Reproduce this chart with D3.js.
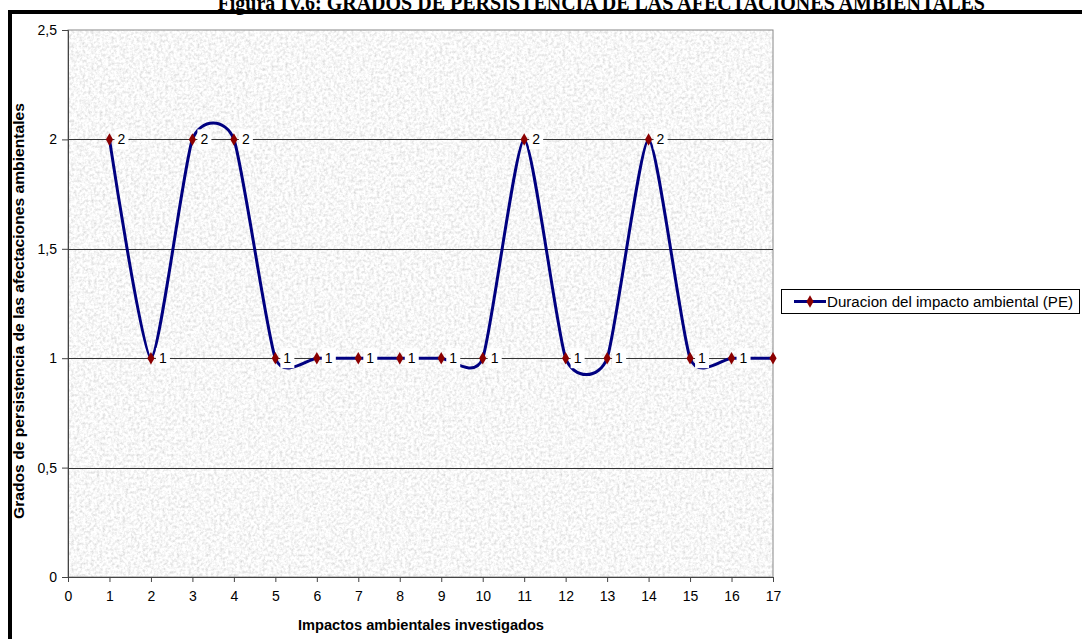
<!DOCTYPE html>
<html>
<head>
<meta charset="utf-8">
<script src="https://cdn.jsdelivr.net/npm/d3@7"></script>
<style>
  body { margin: 0; background: #fff; }
  svg text { font-family: "Liberation Sans", Arial, sans-serif; }
</style>
</head>
<body>
<div id="chart"></div>
<script>
// values
const impactos = [1, 2, 3, 4, 5, 6, 7, 8, 9, 10, 11, 12, 13, 14, 15, 16, 17];
const persistencia = [2, 1, 2, 2, 1, 1, 1, 1, 1, 1, 2, 1, 1, 2, 1, 1, 1];
const yTicks = [0, 0.5, 1, 1.5, 2, 2.5];
const serieName = "Duracion del impacto ambiental (PE)";

const width = 1082;
const height = 639;
const margin = { top: 30, left: 68, right: 309, bottom: 62 };

const svg = d3.select("#chart")
  .append("svg")
  .attr("width", width)
  .attr("height", height);

// speckled grey texture for the plot area
const defs = svg.append("defs");
const noise = defs.append("filter")
  .attr("id", "noise")
  .attr("x", 0).attr("y", 0).attr("width", "100%").attr("height", "100%");
noise.append("feTurbulence")
  .attr("type", "fractalNoise")
  .attr("baseFrequency", 0.35)
  .attr("numOctaves", 3)
  .attr("seed", 4)
  .attr("result", "t");
noise.append("feColorMatrix")
  .attr("in", "t")
  .attr("type", "matrix")
  .attr("values", "0.6 0 0 0 0.63  0.6 0 0 0 0.63  0.6 0 0 0 0.63  0 0 0 0 1")
  .attr("result", "g");
noise.append("feComposite")
  .attr("in", "g")
  .attr("in2", "SourceGraphic")
  .attr("operator", "in");

// title (runs against the top of the page)
svg.append("text")
  .attr("x", 985)
  .attr("y", 10)
  .attr("text-anchor", "end")
  .style("font-family", "'Liberation Serif', 'Times New Roman', serif")
  .style("font-weight", "bold")
  .style("font-size", "20px")
  .text("Figura IV.6: GRADOS DE PERSISTENCIA DE LAS AFECTACIONES  AMBIENTALES");

// outer frame
svg.append("rect")
  .attr("x", 10)
  .attr("y", 12)
  .attr("width", width)
  .attr("height", height)
  .attr("fill", "none")
  .attr("stroke", "#000")
  .attr("stroke-width", 4);

const xScale = d3.scaleLinear()
  .domain([0, 17])
  .range([margin.left, width - margin.right]);

const yScale = d3.scaleLinear()
  .domain([0, 2.5])
  .range([height - margin.bottom, margin.top]);

// plot area
svg.append("rect")
  .attr("x", xScale(0))
  .attr("y", yScale(2.5))
  .attr("width", xScale(17) - xScale(0))
  .attr("height", yScale(0) - yScale(2.5))
  .attr("fill", "#ddd")
  .attr("filter", "url(#noise)");

svg.append("rect")
  .attr("x", xScale(0))
  .attr("y", yScale(2.5))
  .attr("width", xScale(17) - xScale(0))
  .attr("height", yScale(0) - yScale(2.5))
  .attr("fill", "none")
  .attr("stroke", "#888")
  .attr("stroke-width", 1);

// gridlines
svg.selectAll(".grid")
  .data(yTicks.filter(function(d) { return d > 0 && d < 2.5; }))
  .enter()
  .append("line")
  .attr("class", "grid")
  .attr("x1", xScale(0))
  .attr("x2", xScale(17))
  .attr("y1", function(d) { return Math.round(yScale(d)) + 0.5; })
  .attr("y2", function(d) { return Math.round(yScale(d)) + 0.5; })
  .attr("stroke", "#333")
  .attr("stroke-width", 1);

// axes
const fmt = function(d) { return String(d).replace(".", ","); };

const yAxis = svg.append("g")
  .attr("transform", `translate(${xScale(0)},0)`)
  .call(d3.axisLeft(yScale).tickValues(yTicks).tickFormat(fmt).tickSize(6).tickPadding(5));

const xAxis = svg.append("g")
  .attr("transform", `translate(0,${yScale(0)})`)
  .call(d3.axisBottom(xScale).ticks(17).tickFormat(d3.format("d")).tickSize(5).tickPadding(9));

[xAxis, yAxis].forEach(function(ax) {
  ax.select(".domain").attr("stroke", "#444");
  ax.selectAll(".tick line").attr("stroke", "#444");
  ax.selectAll(".tick text")
    .attr("fill", "#000")
    .style("font-size", "14px")
    .style("font-family", "'Liberation Sans', Arial, sans-serif");
});

// axis titles
svg.append("text")
  .attr("x", 421)
  .attr("y", 630)
  .attr("text-anchor", "middle")
  .attr("textLength", 246)
  .attr("lengthAdjust", "spacingAndGlyphs")
  .style("font-weight", "bold")
  .style("font-size", "14px")
  .text("Impactos ambientales investigados");

svg.append("text")
  .attr("x", -311)
  .attr("y", 24)
  .attr("text-anchor", "middle")
  .attr("transform", "rotate(-90)")
  .attr("textLength", 416)
  .attr("lengthAdjust", "spacingAndGlyphs")
  .style("font-weight", "bold")
  .style("font-size", "14px")
  .text("Grados de persistencia de las afectaciones ambientales");

// smoothed series line
const data = impactos.map(function(d, i) {
  return { x: d, y: persistencia[i] };
});

const line = d3.line()
  .x(function(d) { return xScale(d.x); })
  .y(function(d) { return yScale(d.y); })
  .curve(d3.curveCardinal.tension(0.4));

svg.append("path")
  .datum(data)
  .attr("d", line)
  .attr("fill", "none")
  .attr("stroke", "#000080")
  .attr("stroke-width", 3);

// data labels (the last one falls outside the plot and is not shown)
const labels = svg.selectAll(".lbl")
  .data(data.filter(function(d) { return d.x < 17; }))
  .enter()
  .append("g")
  .attr("class", "lbl")
  .attr("transform", function(d) {
    return `translate(${xScale(d.x) + 5},${yScale(d.y)})`;
  });

labels.append("rect")
  .attr("x", 0)
  .attr("y", -10)
  .attr("width", 14)
  .attr("height", 20)
  .attr("fill", "#fff");

labels.append("text")
  .attr("x", 3)
  .attr("y", 5)
  .style("font-size", "14px")
  .text(function(d) { return d.y; });

// markers
const diamond = d3.symbol().type(d3.symbolDiamond).size(45);

svg.selectAll(".pt")
  .data(data)
  .enter()
  .append("path")
  .attr("class", "pt")
  .attr("d", diamond)
  .attr("transform", function(d) {
    return `translate(${xScale(d.x)},${yScale(d.y)})`;
  })
  .attr("fill", "#8b0000");

// legend
const legend = svg.append("g")
  .attr("transform", "translate(781,289)");

legend.append("rect")
  .attr("x", 0.5)
  .attr("y", 0.5)
  .attr("width", 298)
  .attr("height", 24)
  .attr("fill", "#fff")
  .attr("stroke", "#000");

legend.append("line")
  .attr("x1", 13)
  .attr("x2", 45)
  .attr("y1", 12.5)
  .attr("y2", 12.5)
  .attr("stroke", "#000080")
  .attr("stroke-width", 3);

legend.append("path")
  .attr("d", diamond)
  .attr("transform", "translate(29,12.5)")
  .attr("fill", "#8b0000");

legend.append("text")
  .attr("x", 46)
  .attr("y", 17.5)
  .attr("textLength", 246)
  .attr("lengthAdjust", "spacingAndGlyphs")
  .style("font-size", "14px")
  .text(serieName);
</script>
</body>
</html>
